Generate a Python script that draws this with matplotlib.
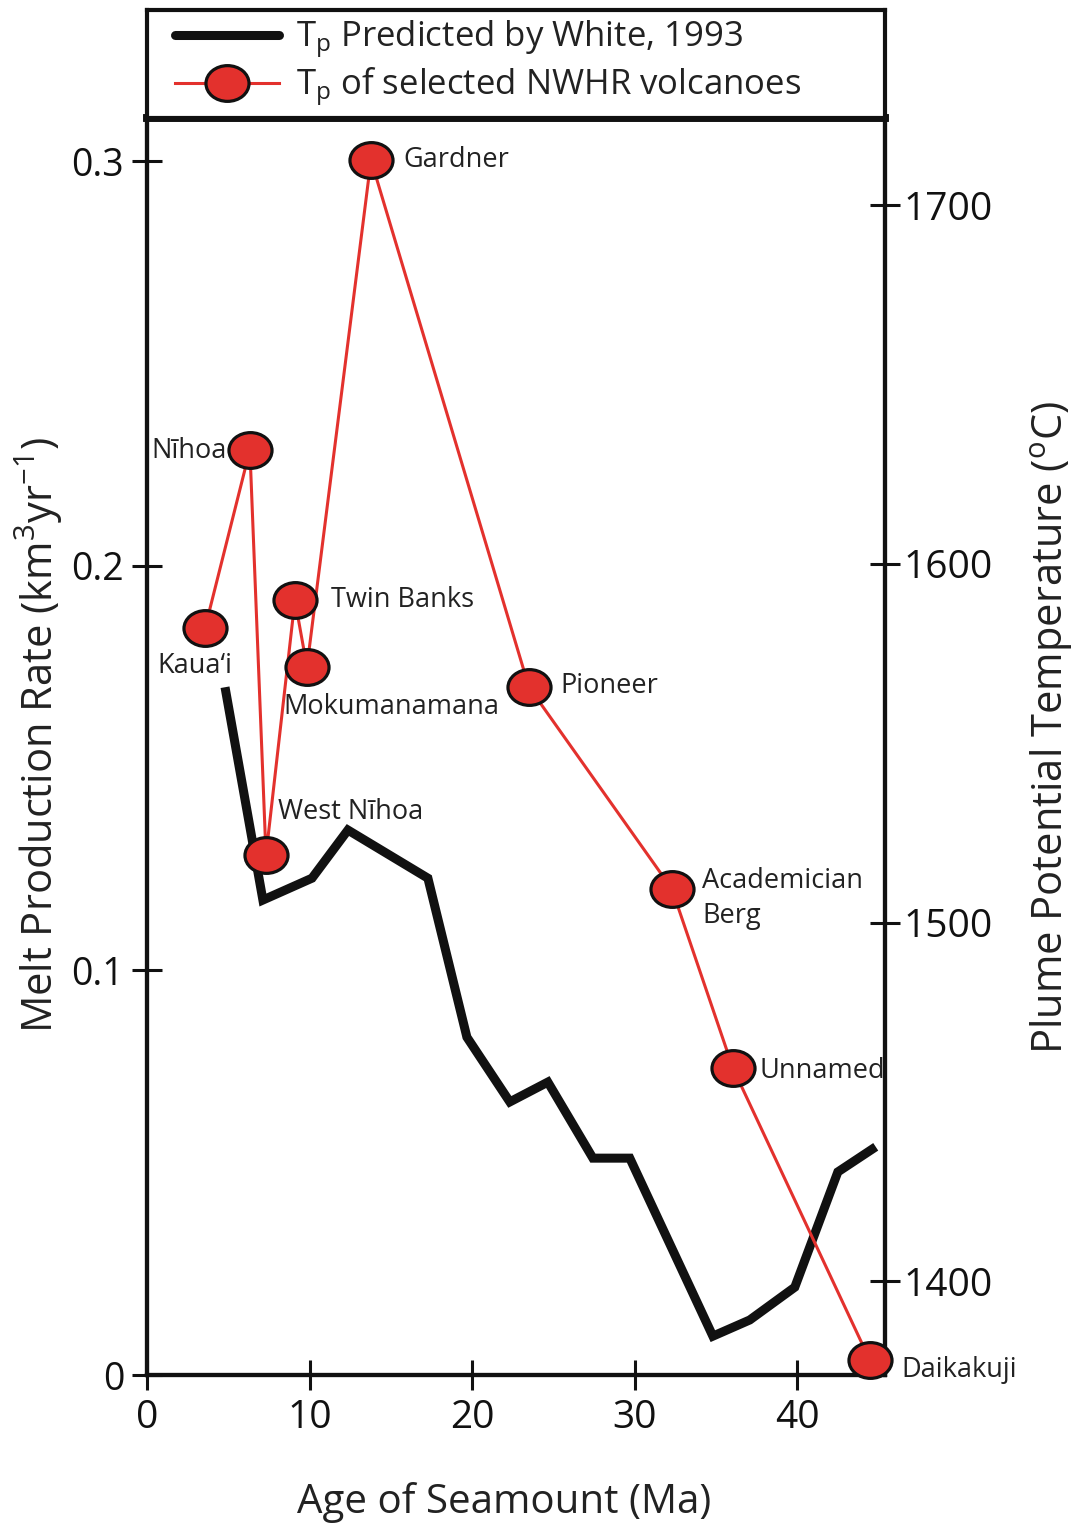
import matplotlib
matplotlib.use("Agg")
import matplotlib.pyplot as plt
from matplotlib.path import Path
from matplotlib.transforms import Affine2D
from matplotlib.lines import Line2D

plt.rcParams['font.family'] = ['Open Sans', 'DejaVu Sans']
plt.rcParams['mathtext.fontset'] = 'custom'
plt.rcParams['mathtext.rm'] = 'Open Sans'
plt.rcParams['mathtext.it'] = 'Open Sans:italic'
plt.rcParams['mathtext.default'] = 'regular'

# melt production rate predicted by White (1993)
white_age = [4.80, 7.13, 10.15, 12.36, 17.28, 19.68, 22.32, 24.66, 27.43, 29.70,
             34.81, 37.08, 39.85, 42.50, 44.83]
white_rate = [0.1700, 0.1174, 0.1228, 0.1347, 0.1228, 0.0835, 0.0675, 0.0724, 0.0536, 0.0536,
              0.0096, 0.0136, 0.0217, 0.0502, 0.0564]

# potential temperature of selected NWHR volcanoes
volcanoes = ["Kaua\u2018i", "N\u012bhoa", "West N\u012bhoa", "Twin Banks", "Mokumanamana",
             "Gardner", "Pioneer", "Academician\nBerg", "Unnamed", "Daikakuji"]
volc_age = [3.57, 6.33, 7.32, 9.10, 9.84, 13.78, 23.49, 32.29, 36.04, 44.46]
volc_tp = [1582.1, 1631.8, 1518.8, 1589.9, 1571.3, 1712.6, 1565.7, 1509.4, 1459.5, 1378.1]

rate_ticks = [0, 0.1, 0.2, 0.3]
rate_ticklabels = ["0", "0.1", "0.2", "0.3"]
tp_ticks = [1400, 1500, 1600, 1700]
age_ticks = [0, 10, 20, 30, 40]

# label offsets (points) and alignment for each volcano name
label_style = {
    "Kaua\u2018i": ((-7, -27), 'center', 'center'),
    "N\u012bhoa": ((-17, -1), 'right', 'center'),
    "West N\u012bhoa": ((9, 31), 'left', 'center'),
    "Twin Banks": ((26, 0), 'left', 'center'),
    "Mokumanamana": ((-17, -29), 'left', 'center'),
    "Gardner": ((23, 0), 'left', 'center'),
    "Pioneer": ((23, 1), 'left', 'center'),
    "Academician\nBerg": ((22, -7), 'left', 'center'),
    "Unnamed": ((19, -2), 'left', 'center'),
    "Daikakuji": ((23, -7), 'left', 'center'),
}

W, H = 1075, 1526
fig = plt.figure(figsize=(W / 100, H / 100), dpi=100)
left, right, top, bottom = 147 / W, 885 / W, 1 - 118 / H, 1 - 1375 / H
ax = fig.add_axes([left, bottom, right - left, top - bottom])
ax2 = ax.twinx()

red = '#e3312d'
ellipse = Path.unit_circle().transformed(Affine2D().scale(1.0, 0.83))

ax.plot(white_age, white_rate, color='#111111', lw=6.5, solid_joinstyle='miter',
        solid_capstyle='butt', zorder=3)
ax2.plot(volc_age, volc_tp, color=red, lw=2.2, marker=ellipse, markersize=31,
         markerfacecolor=red, markeredgecolor='#111111', markeredgewidth=2.3,
         clip_on=False, zorder=4)

for name, x, y in zip(volcanoes, volc_age, volc_tp):
    off, ha, va = label_style[name]
    ax2.annotate(name, (x, y), xytext=off, textcoords='offset points',
                 ha=ha, va=va, fontsize=19.5, color='#222222', linespacing=1.35,
                 annotation_clip=False)

ax.set_xlim(0, 45.4)
ax.set_ylim(0, 0.3107)
ax2.set_ylim(1373.9, 1724.3)

ax.set_xticks(age_ticks)
ax.set_yticks(rate_ticks)
ax.set_yticklabels(rate_ticklabels)
ax2.set_yticks(tp_ticks)

ax.tick_params(axis='x', direction='inout', length=21, width=2.2, pad=7,
               labelsize=28, colors='#111111')
ax.tick_params(axis='y', direction='inout', length=21, width=2.2, pad=6,
               labelsize=27, colors='#111111')
ax2.tick_params(axis='y', direction='inout', length=21, width=2.2, pad=3,
                labelsize=28, colors='#111111')

for a in (ax, ax2):
    for s in ('left', 'right', 'bottom'):
        a.spines[s].set_linewidth(3)
        a.spines[s].set_color('#111111')
    a.spines['top'].set_linewidth(5.5)
    a.spines['top'].set_color('#111111')

ax.set_xlabel("Age of Seamount (Ma)", fontsize=29, labelpad=32, color='#222222')
ax.set_ylabel("Melt Production Rate (km$^{3}$yr$^{-1}$)", fontsize=30, labelpad=5,
              color='#222222')
ax2.set_ylabel("Plume Potential Temperature ($^{o}$C)", fontsize=30, labelpad=26,
               color='#222222')
ax.xaxis.label.set_x(0.484)
ax.yaxis.label.set_y(0.509)
ax2.yaxis.label.set_y(0.515)

# legend box above the plot
lax = fig.add_axes([left, top, right - left, 1 - 10 / H - top])
lax.set_xticks([])
lax.set_yticks([])
for s in lax.spines.values():
    s.set_linewidth(3)
    s.set_color('#111111')
handles = [
    Line2D([], [], color='#111111', lw=6.5, solid_capstyle='round'),
    Line2D([], [], color=red, lw=2.2, marker=ellipse, markersize=31,
           markerfacecolor=red, markeredgecolor='#111111', markeredgewidth=2.3),
]
labels = ["T$_{p}$ Predicted by White, 1993", "T$_{p}$ of selected NWHR volcanoes"]
lax.legend(handles, labels, loc='center left', frameon=False, fontsize=25,
           handlelength=3.0, handletextpad=0.5, labelspacing=0.15,
           borderaxespad=0.8, borderpad=0.0, labelcolor='#222222')

fig.savefig("out.png", dpi=100)
